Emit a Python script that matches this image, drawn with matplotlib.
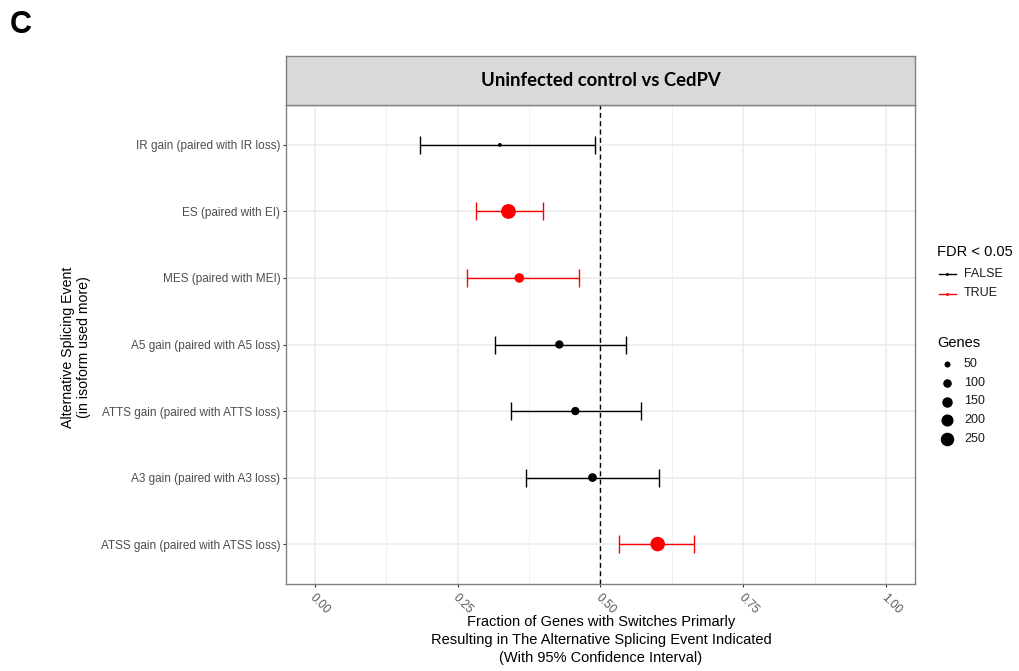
import numpy as np
import matplotlib
matplotlib.use("Agg")
import matplotlib.pyplot as plt
from matplotlib.lines import Line2D
from matplotlib.transforms import ScaledTranslation, blended_transform_factory

plt.rcParams['font.family'] = ['Liberation Sans', 'DejaVu Sans']

# ---------------- data ----------------
categories = [
    "IR gain (paired with IR loss)",
    "ES (paired with EI)",
    "MES (paired with MEI)",
    "A5 gain (paired with A5 loss)",
    "ATTS gain (paired with ATTS loss)",
    "A3 gain (paired with A3 loss)",
    "ATSS gain (paired with ATSS loss)",
]
fraction = [0.324, 0.339, 0.358, 0.428, 0.456, 0.486, 0.600]
ci_low   = [0.185, 0.283, 0.266, 0.315, 0.344, 0.369, 0.533]
ci_high  = [0.490, 0.399, 0.462, 0.545, 0.570, 0.603, 0.663]
genes    = [20, 300, 125, 95, 95, 105, 290]
significant = [False, True, True, False, False, False, True]

x_ticks = [0.0, 0.25, 0.5, 0.75, 1.0]
x_tick_labels = ["0.00", "0.25", "0.50", "0.75", "1.00"]
size_breaks = [50, 100, 150, 200, 250]
fdr_levels = ["FALSE", "TRUE"]
fdr_colors = {False: "#000000", True: "#FF0000"}

title_strip = "Uninfected control vs CedPV"
x_title = ("Fraction of Genes with Switches Primarly\n"
           "Resulting in The Alternative Splicing Event Indicated\n"
           "(With 95% Confidence Interval)")
y_title = "Alternative Splicing Event\n(in isoform used more)"

# ---------------- helpers ----------------
W, H = 1020, 671
DPI = 100


def marker_area(g):
    # area (pt^2) proportional to gene count
    d_px = np.sqrt(0.73 * np.asarray(g, dtype=float))
    return (d_px * 72.0 / DPI) ** 2


fig = plt.figure(figsize=(W / DPI, H / DPI), dpi=DPI)
fig.patch.set_facecolor("white")

ax_l, ax_r, ax_t, ax_b = 286, 915, 105, 584
ax = fig.add_axes([ax_l / W, 1 - ax_b / H, (ax_r - ax_l) / W, (ax_b - ax_t) / H])

ypos = np.arange(len(categories))
frac = np.array(fraction)
lo = np.array(ci_low)
hi = np.array(ci_high)

# grid
for xm in [0.125, 0.375, 0.625, 0.875]:
    ax.axvline(xm, color="#EFEFEF", lw=0.6, zorder=0)
for xm in x_ticks:
    ax.axvline(xm, color="#EBEBEB", lw=1.1, zorder=0)
for y in ypos:
    ax.axhline(y, color="#EBEBEB", lw=1.1, zorder=0)

ax.axvline(0.5, color="#000000", lw=1.0, ls=(0, (3.5, 2.5)), zorder=1)

for sig in [False, True]:
    idx = [i for i, s in enumerate(significant) if s == sig]
    if not idx:
        continue
    ax.errorbar(frac[idx], ypos[idx],
                xerr=[frac[idx] - lo[idx], hi[idx] - frac[idx]],
                fmt="none", ecolor=fdr_colors[sig], elinewidth=1.0,
                capsize=6.8, capthick=1.0, zorder=2)
    ax.scatter(frac[idx], ypos[idx], s=marker_area(np.array(genes)[idx]),
               color=fdr_colors[sig], linewidths=0, zorder=3)

ax.set_xlim(-0.05, 1.05)
ax.set_ylim(len(categories) - 1 + 0.6, -0.6)

ax.set_yticks(ypos)
ax.set_yticklabels(categories, fontsize=8.5, color="#4D4D4D")
ax.set_xticks(x_ticks)
ax.set_xticklabels([])
ax.tick_params(axis="both", length=2.5, width=0.8, color="#333333")
ax.tick_params(axis="y", pad=1.5)

# rotated x tick labels
btrans = blended_transform_factory(ax.transData, ax.transAxes)
off = ScaledTranslation(-7 / DPI, -8 / DPI, fig.dpi_scale_trans)
for xv, lab in zip(x_ticks, x_tick_labels):
    ax.text(xv, 0, lab, transform=btrans + off, rotation=-45,
            ha="left", va="top", fontsize=8.5, color="#595959", clip_on=False)

for sp in ax.spines.values():
    sp.set_color("#808080")
    sp.set_linewidth(1.0)

# strip
sax = fig.add_axes([ax_l / W, 1 - ax_t / H, (ax_r - ax_l) / W, 49 / H])
sax.set_facecolor("#D9D9D9")
sax.set_xticks([])
sax.set_yticks([])
for sp in sax.spines.values():
    sp.set_color("#808080")
    sp.set_linewidth(1.0)
sax.text(0.5, 0.5, title_strip, transform=sax.transAxes, ha="center",
         va="center", fontsize=13.3, fontweight="bold",
         family=["Lato", "DejaVu Sans"], color="#000000")

# axis titles
fig.text(601 / W, 1 - 640 / H, x_title, ha="center", va="center",
         fontsize=10.5, linespacing=1.4, color="#000000")
fig.text(76 / W, 1 - 347 / H, y_title, ha="center", va="center",
         rotation=90, fontsize=10.2, linespacing=1.25, color="#000000")

# panel letter
fig.text(10 / W, 1 - 25 / H, "C", ha="left", va="center", fontsize=22,
         fontweight="bold", color="#000000")

# legend (drawn on a pixel-space overlay)
lax = fig.add_axes([0, 0, 1, 1], zorder=5)
lax.set_xlim(0, W)
lax.set_ylim(H, 0)
lax.axis("off")

leg_x = 937
lax.text(leg_x, 252, "FDR < 0.05", fontsize=10.5, va="center", ha="left")
for i, (lvl, sig) in enumerate(zip(fdr_levels, [False, True])):
    yy = 274 + 19.5 * i
    lax.add_line(Line2D([leg_x + 2, leg_x + 19], [yy, yy],
                        color=fdr_colors[sig], lw=1.0))
    lax.scatter([leg_x + 10], [yy], s=marker_area(12), color=fdr_colors[sig],
                linewidths=0)
    lax.text(leg_x + 27, yy, lvl, fontsize=9, va="center", ha="left",
             color="#1A1A1A")

lax.text(leg_x, 343, "Genes", fontsize=10.5, va="center", ha="left")
for i, b in enumerate(size_breaks):
    yy = 364 + 18.75 * i
    lax.scatter([leg_x + 10], [yy], s=marker_area(b), color="#000000",
                linewidths=0)
    lax.text(leg_x + 27, yy, str(b), fontsize=9, va="center", ha="left",
             color="#1A1A1A")

fig.savefig("out.png", dpi=DPI, facecolor="white")
